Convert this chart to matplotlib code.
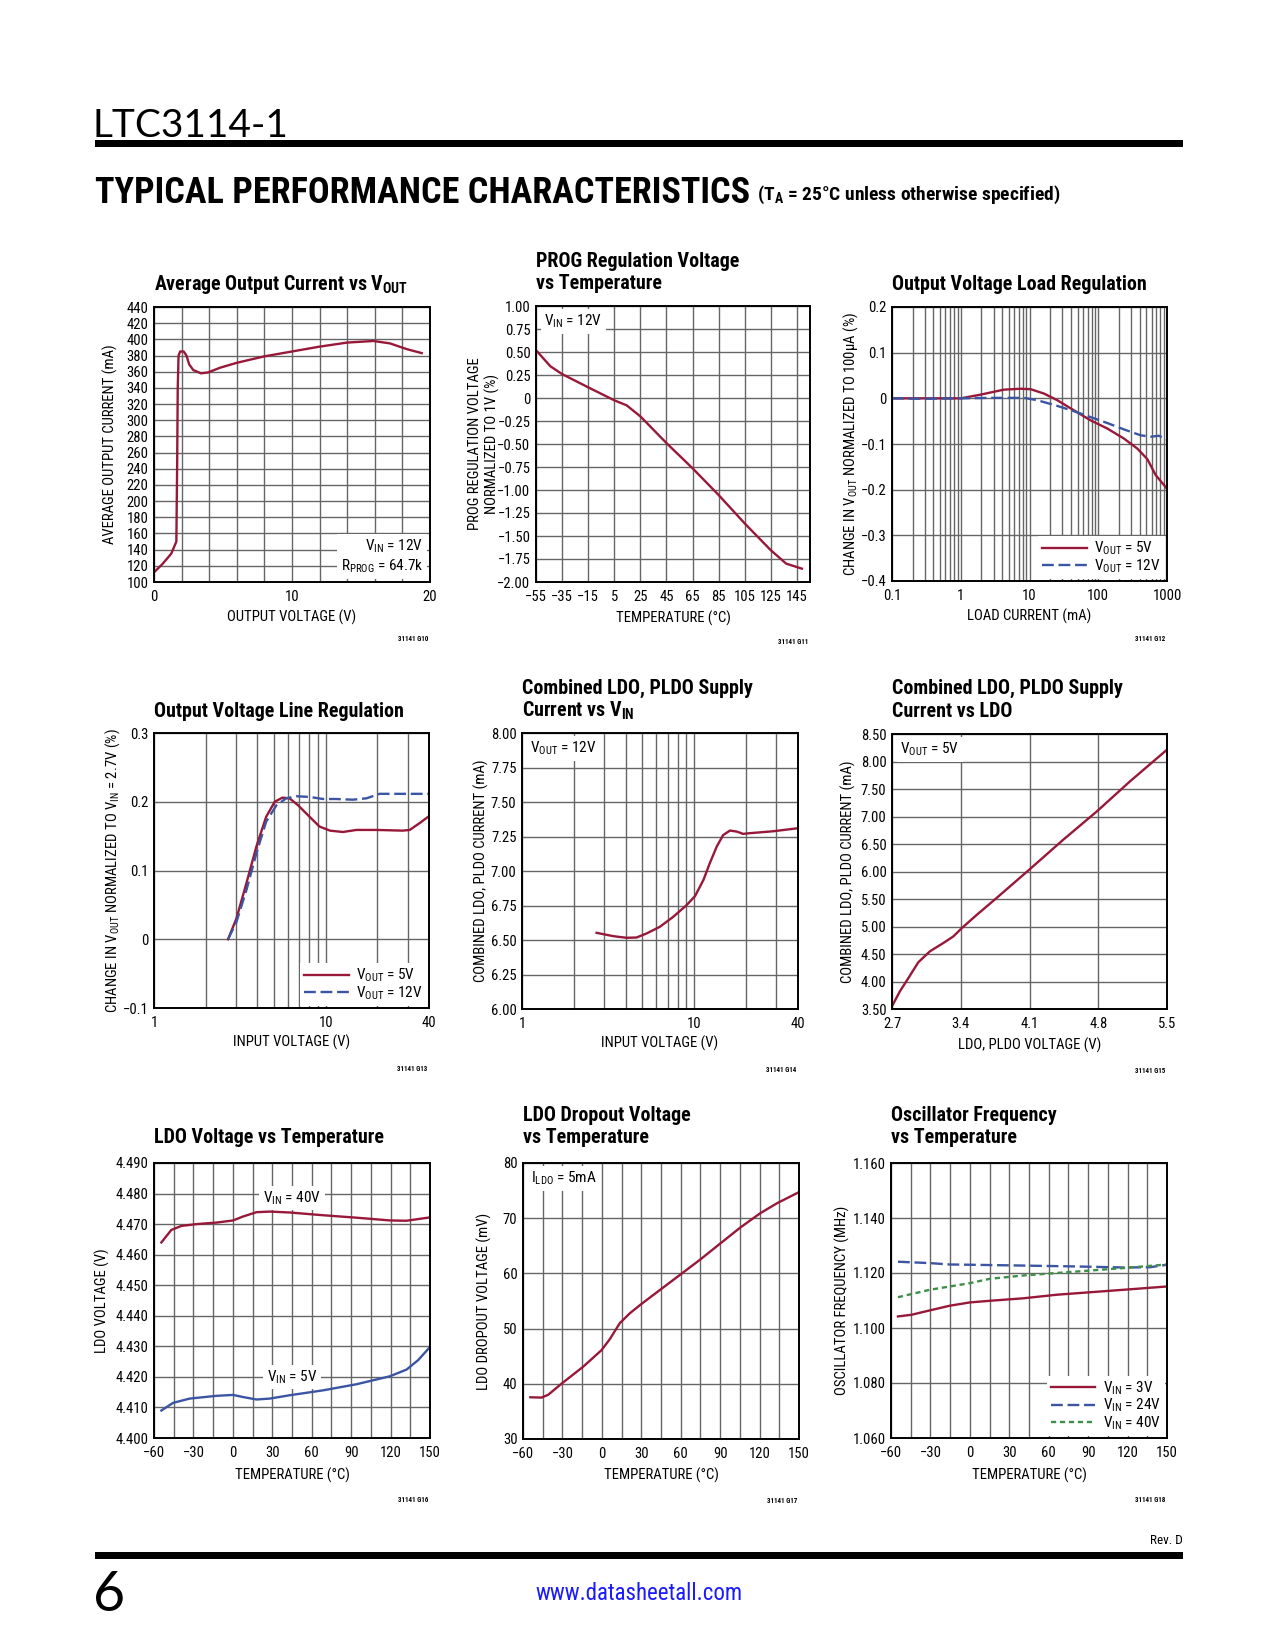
import matplotlib
matplotlib.use('Agg')
import matplotlib.pyplot as plt
from matplotlib import font_manager
from matplotlib.patches import Rectangle
from matplotlib.ticker import FixedLocator, NullFormatter

W, H = 1275, 1650
M = '\u2212'

# pick a narrow sans if one is installed, else plain Liberation Sans with smaller sizes
entries = font_manager.fontManager.ttflist
names = {f.name for f in entries}
NARROW, STRETCH, K = 'Liberation Sans', 'normal', 0.9
for cand in ['Liberation Sans Narrow', 'Roboto Condensed', 'Noto Sans Condensed',
             'Open Sans Condensed', 'DejaVu Sans Condensed']:
    if cand in names:
        NARROW, K = cand, 1.0
        break
else:
    for f in entries:
        if f.name == 'Noto Sans' and 'condensed' in str(f.stretch) and 'extra' not in str(f.stretch):
            NARROW, STRETCH, K = 'Noto Sans', f.stretch, 1.0
            break
THIN = 'Lato' if 'Lato' in names else 'DejaVu Sans'

plt.rcParams['font.family'] = [NARROW, 'DejaVu Sans']
plt.rcParams['font.stretch'] = STRETCH
plt.rcParams['mathtext.fontset'] = 'custom'
plt.rcParams['mathtext.rm'] = NARROW
plt.rcParams['mathtext.bf'] = NARROW + ':bold'
plt.rcParams['mathtext.it'] = NARROW

RED = '#981839'
BLUE = '#3b55a3'
GREEN = '#3f8f48'
GRID = '#666666'

# ---- G10: average output current vs VOUT ----
g10_vout = [0, 0.6, 1.25, 1.62, 1.68, 1.72, 1.78, 1.9, 2.15, 2.35, 2.55, 2.85, 3.4, 3.9,
            4.8, 6.0, 8.0, 10.0, 12.0, 14.0, 15.9, 17.1, 18.3, 19.4]
g10_iout = [112, 122, 135, 150, 250, 340, 380, 385, 385, 380, 369, 362, 358, 359,
            365, 371, 379, 385, 391, 396, 398, 395, 388, 383]

# ---- G11: PROG regulation voltage vs temperature ----
g11_temp = [-55, -44, -35, -15, 5, 14.5, 25, 45, 65, 85, 105, 125, 136.7, 148.8]
g11_prog = [0.52, 0.345, 0.26, 0.116, -0.025, -0.08, -0.2, -0.49, -0.764, -1.055,
            -1.364, -1.655, -1.8, -1.855]

# ---- G12: load regulation ----
g12_load_5v = [0.1, 0.3, 1.0, 1.93, 4.23, 7.4, 10.4, 16.2, 25.3, 44, 77, 135, 236, 370, 517, 684, 989]
g12_dv_5v = [0.0, 0.0, 0.0, 0.008, 0.019, 0.021, 0.02, 0.0105, -0.004, -0.026, -0.048,
             -0.066, -0.088, -0.11, -0.133, -0.168, -0.197]
g12_load_12v = [0.1, 0.3, 1.0, 2.7, 8.3, 12.9, 25.3, 44, 77, 135, 236, 414, 578, 764, 989]
g12_dv_12v = [0.0, -0.001, 0.0, 0.001, 0.001, -0.004, -0.0165, -0.028, -0.041, -0.054,
              -0.068, -0.081, -0.084, -0.082, -0.09]

# ---- G13: line regulation ----
g13_vin_5v = [2.7, 3.02, 3.45, 3.95, 4.5, 5.05, 5.6, 6.16, 6.9, 8.07, 9.2, 10.6, 12.6,
              15.1, 19.7, 28.1, 30.9, 35.3, 40]
g13_dv_5v = [0.0, 0.03, 0.081, 0.135, 0.178, 0.2, 0.206, 0.205, 0.195, 0.178, 0.164,
             0.158, 0.156, 0.159, 0.159, 0.158, 0.159, 0.169, 0.179]
g13_vin_12v = [2.7, 3.02, 3.45, 3.95, 4.5, 5.17, 5.9, 6.75, 8.07, 9.65, 11.5, 14.4, 17.3,
               20.6, 26.9, 40]
g13_dv_12v = [0.0, 0.025, 0.071, 0.125, 0.171, 0.195, 0.205, 0.208, 0.207, 0.204, 0.204,
              0.203, 0.205, 0.2115, 0.2115, 0.2115]

# ---- G14: supply current vs VIN ----
g14_vin = [2.71, 3.38, 4.04, 4.62, 5.28, 6.32, 7.55, 9.03, 10.1, 11.3, 12.3, 13.5, 14.7,
           16.1, 17.6, 19.2, 21, 28.7, 40]
g14_i = [6.552, 6.528, 6.516, 6.518, 6.547, 6.596, 6.668, 6.753, 6.818, 6.935, 7.056,
         7.177, 7.26, 7.293, 7.286, 7.269, 7.274, 7.288, 7.31]

# ---- G15: supply current vs LDO ----
g15_vldo = [2.7, 2.78, 2.866, 2.968, 3.087, 3.223, 3.325, 3.41, 3.562, 3.766, 4.105,
            4.445, 4.784, 5.124, 5.5]
g15_i = [3.55, 3.82, 4.06, 4.35, 4.55, 4.70, 4.82, 4.97, 5.21, 5.52, 6.045, 6.58, 7.09,
         7.64, 8.215]

# ---- G16: LDO voltage vs temperature ----
g16_temp = [-54.4, -46.8, -39.2, -27.7, -12.5, 0.2, 7.8, 18, 28.1, 43.4, 68.7, 94.1,
            119.5, 132, 150]
g16_v40 = [4.464, 4.4681, 4.4694, 4.470, 4.4705, 4.4712, 4.4725, 4.4739, 4.4741, 4.4738,
           4.4729, 4.4721, 4.4712, 4.4711, 4.4722]
g16_temp5 = [-54.4, -45.5, -32.8, -12.5, 0.2, 7.8, 18, 28.1, 43.4, 68.7, 94.1, 119.5,
             132.2, 141, 150]
g16_v5 = [4.409, 4.4115, 4.4129, 4.4138, 4.4141, 4.4134, 4.4126, 4.4129, 4.414, 4.4156,
          4.4176, 4.4202, 4.4224, 4.4255, 4.4298]

# ---- G17: dropout vs temperature ----
g17_temp = [-54.4, -46, -40.9, -30.8, -14.2, -0.25, 6.1, 13.7, 21.4, 30.3, 44.2, 59.5,
            74.8, 90, 105.3, 120.5, 133.2, 149.8]
g17_mv = [37.56, 37.5, 38, 40, 43.1, 46.1, 48.1, 51, 52.8, 54.5, 57, 59.75, 62.5, 65.4,
          68.3, 70.9, 72.7, 74.7]

# ---- G18: oscillator frequency ----
g18_temp_3v = [-54.7, -44.5, -30.5, -15.3, 0, 15.3, 40.7, 66.1, 91.5, 117, 150]
g18_f_3v = [1.1042, 1.1048, 1.1064, 1.1081, 1.1093, 1.1099, 1.1108, 1.1121, 1.113, 1.1139, 1.1151]
g18_temp_24v = [-54.7, -30.5, -15.3, 0, 40.7, 78.8, 117, 137, 150]
g18_f_24v = [1.1241, 1.1236, 1.1231, 1.123, 1.1227, 1.1224, 1.122, 1.1221, 1.123]
g18_temp_40v = [-54.7, -30.5, -15.3, 0, 15.3, 40.7, 66.1, 91.5, 117, 150]
g18_f_40v = [1.1112, 1.1139, 1.1151, 1.1163, 1.1179, 1.1191, 1.12, 1.1209, 1.1218, 1.1231]

# ---- ticks ----
temp_ticks = [-60, -30, 0, 30, 60, 90, 120, 150]
temp_labels = [M + '60', M + '30', '0', '30', '60', '90', '120', '150']
temp_grid = [-45, -15, 15, 45, 75, 105, 135]

if K == 1:
    TICK, TITLE, AXLAB, INSIDE, BIG, SUB = 10.5, 14.4, 10.6, 11, 26, 14
else:
    TICK, TITLE, AXLAB, INSIDE, BIG, SUB = 9.2, 12.2, 9.0, 9.5, 21, 12

fig = plt.figure(figsize=(W / 100, H / 100), dpi=100)


def ftext(x, y, s, **kw):
    return fig.text(x / W, 1 - y / H, s, **kw)


def make_axes(box, xlim, ylim, xticks, xlabels, yticks, ylabels, xminor=(), yminor=(), logx=False):
    l, t, r, b = box
    ax = fig.add_axes([l / W, 1 - b / H, (r - l) / W, (b - t) / H])
    if logx:
        ax.set_xscale('log')
    ax.set_xlim(*xlim)
    ax.set_ylim(*ylim)
    ax.set_xticks(xticks, xlabels)
    ax.set_yticks(yticks, ylabels)
    ax.xaxis.set_minor_locator(FixedLocator(list(xminor)))
    ax.yaxis.set_minor_locator(FixedLocator(list(yminor)))
    ax.xaxis.set_minor_formatter(NullFormatter())
    ax.yaxis.set_minor_formatter(NullFormatter())
    ax.tick_params(which='both', length=0, labelsize=TICK)
    ax.tick_params(axis='x', pad=5.5)
    ax.tick_params(axis='y', pad=4)
    ax.grid(which='both', color=GRID, lw=1.0)
    ax.set_axisbelow(True)
    for sp in ax.spines.values():
        sp.set_linewidth(1.4)
        sp.set_zorder(6)
    return ax


def decorate(box, titles, ylabel, ylab_x, xlabel, xlab_y, code, code_y):
    l, t, r, b = box
    for s, y in titles:
        ftext(l, y, s, fontsize=TITLE, fontweight='bold', va='baseline', ha='left')
    ftext(ylab_x, (t + b) / 2, ylabel, fontsize=AXLAB, rotation=90, ha='center', va='center',
          multialignment='center', linespacing=1.2)
    ftext((l + r) / 2, xlab_y, xlabel, fontsize=AXLAB, ha='center', va='center')
    ftext(r - 2, code_y, code, fontsize=5, fontweight='bold', ha='right', va='center')


def corner_label(ax, s, x, y, ha='left', va='top'):
    ax.text(x, y, s, transform=ax.transAxes, fontsize=INSIDE, ha=ha, va=va, zorder=3,
            bbox=dict(facecolor='white', edgecolor='none', pad=2.5))


def legend(ax, loc='lower right'):
    lg = ax.legend(loc=loc, fontsize=INSIDE, frameon=True, fancybox=False, framealpha=1,
                   edgecolor='none', facecolor='white', handlelength=2.9, handletextpad=0.5,
                   labelspacing=0.0, borderpad=0.25, borderaxespad=0.15)
    lg.set_zorder(5)


LW = 1.7

# ---------------- G10 ----------------
box = (154, 307, 430, 582)
ax = make_axes(box, (0, 20), (100, 440), [0, 10, 20], ['0', '10', '20'],
               list(range(100, 441, 20)), [str(v) for v in range(100, 441, 20)],
               xminor=[2, 4, 6, 8, 12, 14, 16, 18])
ax.plot(g10_vout, g10_iout, color=RED, lw=LW, zorder=4)
corner_label(ax, 'V$_{\\mathrm{IN}}$ = 12V\nR$_{\\mathrm{PROG}}$ = 64.7k', 0.975, 0.025,
             ha='right', va='bottom')
decorate(box, [('Average Output Current vs V$_{\\mathbf{OUT}}$', 290)],
         'AVERAGE OUTPUT CURRENT (mA)', 110, 'OUTPUT VOLTAGE (V)', 617, '31141 G10', 639)

# ---------------- G11 ----------------
box = (536, 306, 810, 582)
g11_xt = [-55, -35, -15, 5, 25, 45, 65, 85, 105, 125, 145]
g11_yt = [1.0, 0.75, 0.5, 0.25, 0, -0.25, -0.5, -0.75, -1.0, -1.25, -1.5, -1.75, -2.0]
g11_yl = ['1.00', '0.75', '0.50', '0.25', '0', M + '0.25', M + '0.50', M + '0.75', M + '1.00',
          M + '1.25', M + '1.50', M + '1.75', M + '2.00']
ax = make_axes(box, (-55, 155), (-2, 1), g11_xt, [str(v).replace('-', M) for v in g11_xt],
               g11_yt, g11_yl)
ax.plot(g11_temp, g11_prog, color=RED, lw=LW, zorder=4)
corner_label(ax, 'V$_{\\mathrm{IN}}$ = 12V', 0.03, 0.975)
decorate(box, [('PROG Regulation Voltage', 267), ('vs Temperature', 289)],
         'PROG REGULATION VOLTAGE\nNORMALIZED TO 1V (%)', 484, 'TEMPERATURE (\u00b0C)', 618,
         '31141 G11', 642)

# ---------------- G12 ----------------
box = (892, 307, 1167, 581)
dec_minor = [m * d for d in (0.1, 1, 10, 100) for m in range(2, 10)]
ax = make_axes(box, (0.1, 1000), (-0.4, 0.2), [0.1, 1, 10, 100, 1000],
               ['0.1', '1', '10', '100', '1000'],
               [0.2, 0.1, 0, -0.1, -0.2, -0.3, -0.4],
               ['0.2', '0.1', '0', M + '0.1', M + '0.2', M + '0.3', M + '0.4'],
               xminor=dec_minor, logx=True)
ax.plot(g12_load_5v, g12_dv_5v, color=RED, lw=LW, zorder=4, label='V$_{\\mathrm{OUT}}$ = 5V')
ax.plot(g12_load_12v, g12_dv_12v, color=BLUE, lw=LW, zorder=4, dashes=(5, 2),
        label='V$_{\\mathrm{OUT}}$ = 12V')
legend(ax)
decorate(box, [('Output Voltage Load Regulation', 290)],
         'CHANGE IN V$_{\\mathrm{OUT}}$ NORMALIZED TO 100\u00b5A (%)', 851,
         'LOAD CURRENT (mA)', 616, '31141 G12', 639)

# ---------------- G13 ----------------
box = (154, 733, 429, 1008)
ax = make_axes(box, (1, 40), (-0.1, 0.3), [1, 10, 40], ['1', '10', '40'],
               [0.3, 0.2, 0.1, 0, -0.1], ['0.3', '0.2', '0.1', '0', M + '0.1'],
               xminor=[2, 3, 4, 5, 6, 7, 8, 9, 20, 30], logx=True)
ax.plot(g13_vin_5v, g13_dv_5v, color=RED, lw=LW, zorder=4, label='V$_{\\mathrm{OUT}}$ = 5V')
ax.plot(g13_vin_12v, g13_dv_12v, color=BLUE, lw=LW, zorder=4, dashes=(5, 2),
        label='V$_{\\mathrm{OUT}}$ = 12V')
legend(ax)
decorate(box, [('Output Voltage Line Regulation', 717)],
         'CHANGE IN V$_{\\mathrm{OUT}}$ NORMALIZED TO V$_{\\mathrm{IN}}$ = 2.7V (%)', 113,
         'INPUT VOLTAGE (V)', 1042, '31141 G13', 1069)

# ---------------- G14 ----------------
box = (522, 733, 798, 1009)
g14_yt = [8.0, 7.75, 7.5, 7.25, 7.0, 6.75, 6.5, 6.25, 6.0]
ax = make_axes(box, (1, 40), (6, 8), [1, 10, 40], ['1', '10', '40'],
               g14_yt, ['%.2f' % v for v in g14_yt],
               xminor=[2, 3, 4, 5, 6, 7, 8, 9, 20, 30], logx=True)
ax.plot(g14_vin, g14_i, color=RED, lw=LW, zorder=4)
corner_label(ax, 'V$_{\\mathrm{OUT}}$ = 12V', 0.03, 0.975)
decorate(box, [('Combined LDO, PLDO Supply', 694), ('Current vs V$_{\\mathbf{IN}}$', 717)],
         'COMBINED LDO, PLDO CURRENT (mA)', 481, 'INPUT VOLTAGE (V)', 1043, '31141 G14', 1070)

# ---------------- G15 ----------------
box = (892, 734, 1167, 1009)
g15_xt = [2.7, 3.4, 4.1, 4.8, 5.5]
g15_yt = [8.5, 8.0, 7.5, 7.0, 6.5, 6.0, 5.5, 5.0, 4.5, 4.0, 3.5]
ax = make_axes(box, (2.7, 5.5), (3.5, 8.5), g15_xt, ['%.1f' % v for v in g15_xt],
               g15_yt, ['%.2f' % v for v in g15_yt])
ax.plot(g15_vldo, g15_i, color=RED, lw=LW, zorder=4)
corner_label(ax, 'V$_{\\mathrm{OUT}}$ = 5V', 0.03, 0.975)
decorate(box, [('Combined LDO, PLDO Supply', 694), ('Current vs LDO', 717)],
         'COMBINED LDO, PLDO CURRENT (mA)', 848, 'LDO, PLDO VOLTAGE (V)', 1045, '31141 G15', 1071)

# ---------------- G16 ----------------
box = (154, 1163, 430, 1438)
g16_yt = [4.49, 4.48, 4.47, 4.46, 4.45, 4.44, 4.43, 4.42, 4.41, 4.40]
ax = make_axes(box, (-60, 150), (4.40, 4.49), temp_ticks, temp_labels,
               g16_yt, ['%.3f' % v for v in g16_yt], xminor=temp_grid)
ax.plot(g16_temp, g16_v40, color=RED, lw=LW, zorder=4)
ax.plot(g16_temp5, g16_v5, color=BLUE, lw=LW, zorder=4)
corner_label(ax, 'V$_{\\mathrm{IN}}$ = 40V', 0.5, 0.873, ha='center', va='center')
corner_label(ax, 'V$_{\\mathrm{IN}}$ = 5V', 0.5, 0.222, ha='center', va='center')
decorate(box, [('LDO Voltage vs Temperature', 1143)],
         'LDO VOLTAGE (V)', 102, 'TEMPERATURE (\u00b0C)', 1475, '31141 G16', 1500)

# ---------------- G17 ----------------
box = (523, 1163, 799, 1439)
g17_yt = [80, 70, 60, 50, 40, 30]
ax = make_axes(box, (-60, 150), (30, 80), temp_ticks, temp_labels,
               g17_yt, [str(v) for v in g17_yt], xminor=temp_grid)
ax.plot(g17_temp, g17_mv, color=RED, lw=LW, zorder=4)
corner_label(ax, 'I$_{\\mathrm{LDO}}$ = 5mA', 0.03, 0.975)
decorate(box, [('LDO Dropout Voltage', 1121), ('vs Temperature', 1143)],
         'LDO DROPOUT VOLTAGE (mV)', 484, 'TEMPERATURE (\u00b0C)', 1475, '31141 G17', 1501)

# ---------------- G18 ----------------
box = (891, 1163, 1167, 1438)
g18_yt = [1.16, 1.14, 1.12, 1.10, 1.08, 1.06]
ax = make_axes(box, (-60, 150), (1.06, 1.16), temp_ticks, temp_labels,
               g18_yt, ['%.3f' % v for v in g18_yt], xminor=temp_grid)
ax.plot(g18_temp_3v, g18_f_3v, color=RED, lw=LW, zorder=4, label='V$_{\\mathrm{IN}}$ = 3V')
ax.plot(g18_temp_24v, g18_f_24v, color=BLUE, lw=LW, zorder=4, dashes=(5, 2),
        label='V$_{\\mathrm{IN}}$ = 24V')
ax.plot(g18_temp_40v, g18_f_40v, color=GREEN, lw=LW, zorder=4, dashes=(2.2, 1.6),
        label='V$_{\\mathrm{IN}}$ = 40V')
legend(ax)
decorate(box, [('Oscillator Frequency', 1121), ('vs Temperature', 1143)],
         'OSCILLATOR FREQUENCY (MHz)', 842, 'TEMPERATURE (\u00b0C)', 1475, '31141 G18', 1500)

# ---------------- page header / footer ----------------
ftext(93, 137, 'LTC3114-1', fontsize=28, family=THIN, va='baseline')
fig.add_artist(Rectangle((95 / W, 1 - 147 / H), (1183 - 95) / W, 7 / H,
                         transform=fig.transFigure, color='black', lw=0))
ftext(95, 203, 'TYPICAL PERFORMANCE CHARACTERISTICS', fontsize=BIG,
      fontweight='heavy', va='baseline')
ftext(757, 200, '(T$_{\\mathbf{A}}$ = 25\u00b0C unless otherwise specified)',
      fontsize=SUB, fontweight='bold', va='baseline')

ftext(1183, 1540, 'Rev. D', fontsize=9.5, ha='right', va='center')
fig.add_artist(Rectangle((95 / W, 1 - 1559 / H), (1183 - 95) / W, 7 / H,
                         transform=fig.transFigure, color='black', lw=0))
ftext(93, 1611, '6', fontsize=40, family=THIN, va='baseline')
ftext(639, 1594, 'www.datasheetall.com', fontsize=16.5, color='#1a1aff', ha='center', va='center')

fig.savefig('out.png', dpi=100)
